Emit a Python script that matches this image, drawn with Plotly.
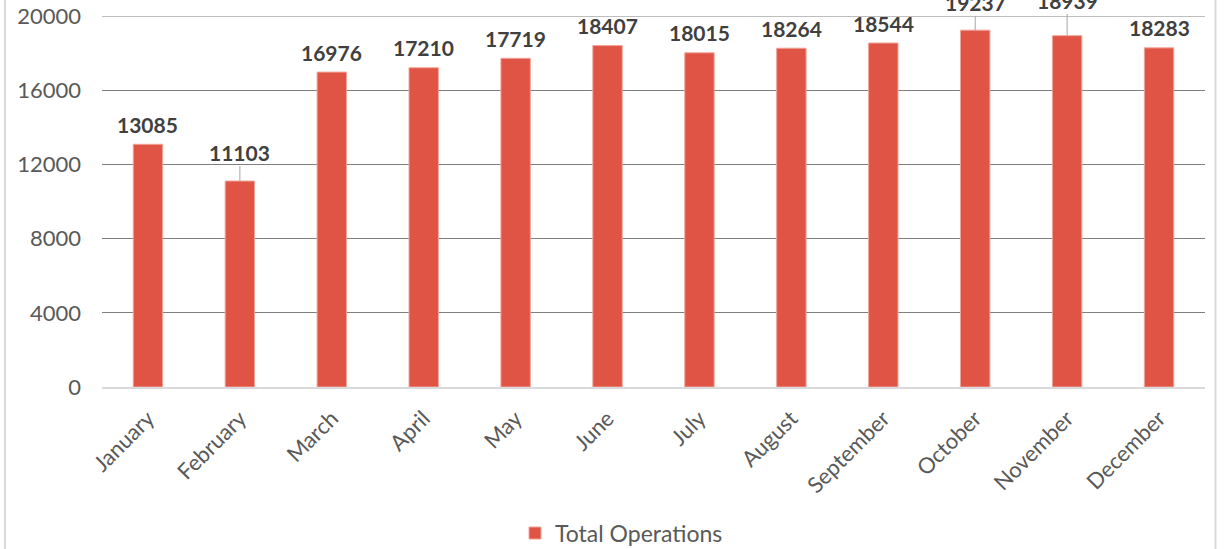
import plotly.graph_objects as go

months = ["January", "February", "March", "April", "May", "June", "July",
          "August", "September", "October", "November", "December"]
operations = [13085, 11103, 16976, 17210, 17719, 18407, 18015, 18264, 18544, 19237, 18939, 18283]
y_ticks = [0, 4000, 8000, 12000, 16000, 20000]
series_name = "Total Operations"

# label placement style (pixel offsets) for labels drawn with a leader line
leader_offsets = {"February": -29, "October": -28, "November": -37}

FONT = "Lato, Carlito, sans-serif"
BAR = "#DF5444"
GRID = "#7F7F7F"
fig = go.Figure()
fig.add_trace(go.Bar(
    x=months, y=operations, name=series_name,
    marker=dict(color=BAR, line=dict(color="#F0A49A", width=1)),
    width=0.32, showlegend=True,
))

annotations = []
for m, v in zip(months, operations):
    common = dict(x=m, y=v, xref="x", yref="y", text=f"<b>{v}</b>",
                  font=dict(family=FONT, size=21, color="#404040"))
    if m in leader_offsets:
        annotations.append(dict(
            **common, showarrow=True, arrowhead=0, arrowwidth=1, arrowcolor="#A6A6A6",
            ax=0, ay=leader_offsets[m], standoff=0,
        ))
    else:
        annotations.append(dict(**common, showarrow=False, yanchor="middle", yshift=20))

fig.update_layout(
    width=1225, height=549,
    margin=dict(l=102, r=20, t=16, b=162, autoexpand=False),
    paper_bgcolor="white", plot_bgcolor="white",
    font=dict(family=FONT, size=21, color="#595959"),
    bargap=0.68,
    xaxis=dict(
        tickangle=-45, showgrid=False, showline=True, linecolor="#D9D9D9", linewidth=2,
        ticks="", tickfont=dict(size=22, color="#595959"), automargin=False,
        ticklabelstandoff=8,
    ),
    yaxis=dict(
        range=[0, 20000], tickvals=y_ticks, ticktext=[str(t) for t in y_ticks],
        showgrid=True, gridcolor=GRID, gridwidth=1, zeroline=False,
        showline=False, ticks="", ticklabelstandoff=20, automargin=False,
        ticklabeloverflow="allow",
        tickfont=dict(size=22, color="#595959"),
    ),
    legend=dict(orientation="h", x=0.471, xanchor="center", y=0.029, yanchor="middle",
                yref="container", font=dict(size=23, color="#595959")),
    annotations=annotations,
    shapes=[
        # top gridline (plotly drops gridlines that sit on the plot edge)
        dict(type="line", xref="paper", yref="y", x0=0, x1=1, y0=y_ticks[-1], y1=y_ticks[-1],
             line=dict(color=GRID, width=1), layer="below"),
        dict(type="line", xref="paper", yref="paper", x0=-0.0879, x1=-0.0879, y0=-0.5, y1=1.1,
             line=dict(color="#D9D9D9", width=2)),
        dict(type="line", xref="paper", yref="paper", x0=1.0095, x1=1.0095, y0=-0.5, y1=1.1,
             line=dict(color="#D9D9D9", width=2)),
    ],
)

# remove the browser's default 8px body margin so the figure fills the window
fig.write_html("out.html", config={"displayModeBar": False},
               post_script="document.body.style.margin='0';")
